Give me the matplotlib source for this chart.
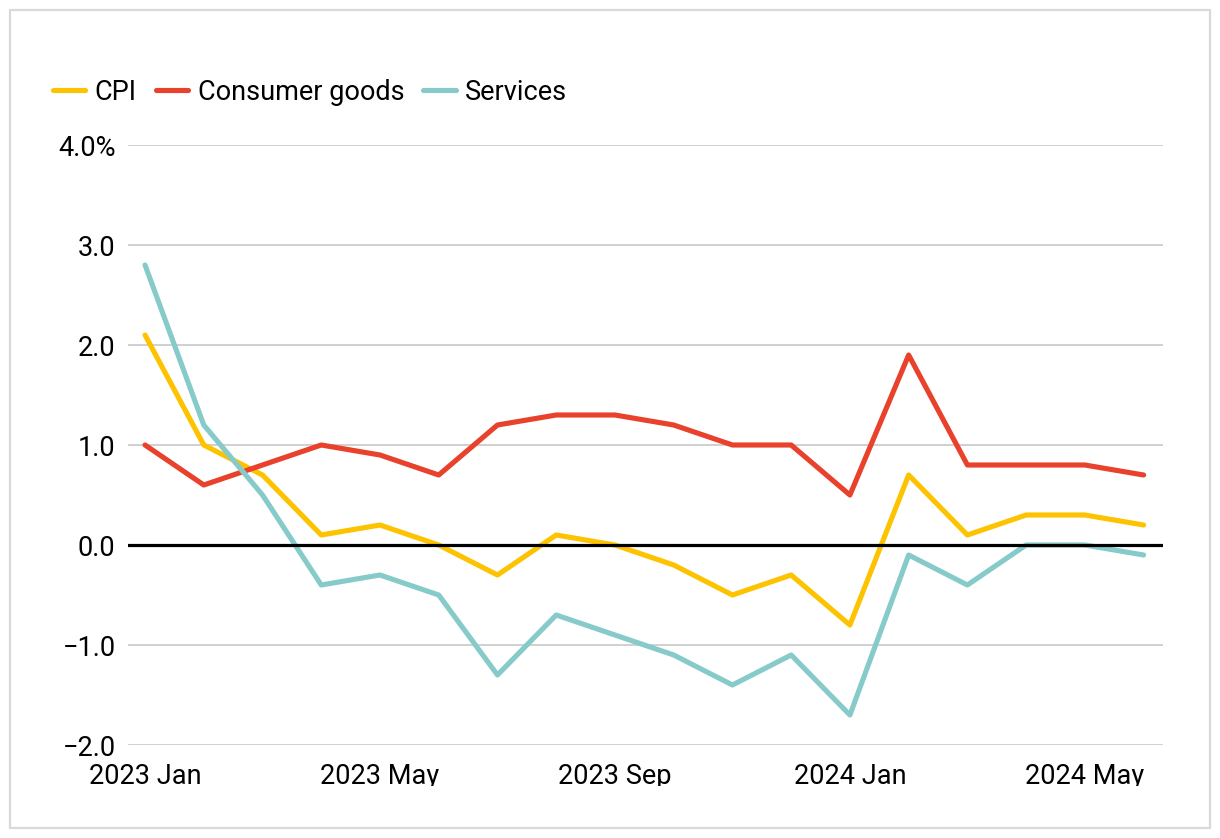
import matplotlib
matplotlib.use("Agg")
import matplotlib.pyplot as plt
from matplotlib.patches import Rectangle

months = ["2023 Jan", "2023 Feb", "2023 Mar", "2023 Apr", "2023 May", "2023 Jun",
          "2023 Jul", "2023 Aug", "2023 Sep", "2023 Oct", "2023 Nov", "2023 Dec",
          "2024 Jan", "2024 Feb", "2024 Mar", "2024 Apr", "2024 May", "2024 Jun"]
cpi = [2.1, 1.0, 0.7, 0.1, 0.2, 0.0, -0.3, 0.1, 0.0, -0.2, -0.5, -0.3,
       -0.8, 0.7, 0.1, 0.3, 0.3, 0.2]
consumer_goods = [1.0, 0.6, 0.8, 1.0, 0.9, 0.7, 1.2, 1.3, 1.3, 1.2, 1.0, 1.0,
                  0.5, 1.9, 0.8, 0.8, 0.8, 0.7]
services = [2.8, 1.2, 0.5, -0.4, -0.3, -0.5, -1.3, -0.7, -0.9, -1.1, -1.4, -1.1,
            -1.7, -0.1, -0.4, 0.0, 0.0, -0.1]
yticks = [-2.0, -1.0, 0.0, 1.0, 2.0, 3.0, 4.0]
ytick_labels = ["\u22122.0", "\u22121.0", "0.0", "1.0", "2.0", "3.0", "4.0%"]
xtick_idx = [0, 4, 8, 12, 16]

plt.rcParams['font.family'] = ['Roboto', 'DejaVu Sans']

W, H = 1220, 838
fig = plt.figure(figsize=(W / 100, H / 100), dpi=100)
ax = fig.add_axes([128 / W, 1 - 745 / H, (1163 - 128) / W, 600 / H])

x = list(range(len(months)))
lw = 3.7
style = dict(lw=lw, solid_capstyle="round", solid_joinstyle="round", zorder=3)
l1, = ax.plot(x, cpi, color="#FDC300", label="CPI", **style)
l2, = ax.plot(x, consumer_goods, color="#E8412C", label="Consumer goods", **style)
l3, = ax.plot(x, services, color="#86CACA", label="Services", **style)

ax.axhline(0, color="black", lw=2.3, zorder=4)

ax.set_xlim(-0.29, 17.33)
ax.set_ylim(-2.0, 4.0)
ax.set_yticks(yticks)
ax.set_yticklabels(ytick_labels)
ax.set_xticks(xtick_idx)
ax.set_xticklabels([months[i] for i in xtick_idx])
ax.grid(axis="y", color="#C8C8C8", lw=1.2, zorder=0)
ax.grid(axis="x", visible=False)
for s in ax.spines.values():
    s.set_visible(False)
ax.tick_params(axis="both", length=0, labelsize=19.5, colors="black")
ax.tick_params(axis="y", pad=9)
ax.tick_params(axis="x", pad=13)

fig.legend(handles=[l1, l2, l3], loc="upper left", bbox_to_anchor=(42 / W, 1 - 68 / H),
           ncol=3, frameon=False, fontsize=19.5, handlelength=1.2, handletextpad=0.35,
           columnspacing=0.7, borderaxespad=0)

# cover descenders below the x labels like the reference
fig.patches.append(Rectangle((12 / W, 1 - 812 / H), (W - 24) / W, 26 / H,
                             transform=fig.transFigure, facecolor="white",
                             edgecolor="none", zorder=10))
fig.patches.append(Rectangle((10 / W, 10 / H), 1200 / W, 818 / H,
                             transform=fig.transFigure, facecolor="none",
                             edgecolor="#D9D9D9", lw=1.6, zorder=11))

fig.savefig("out.png", dpi=100, facecolor="white")
